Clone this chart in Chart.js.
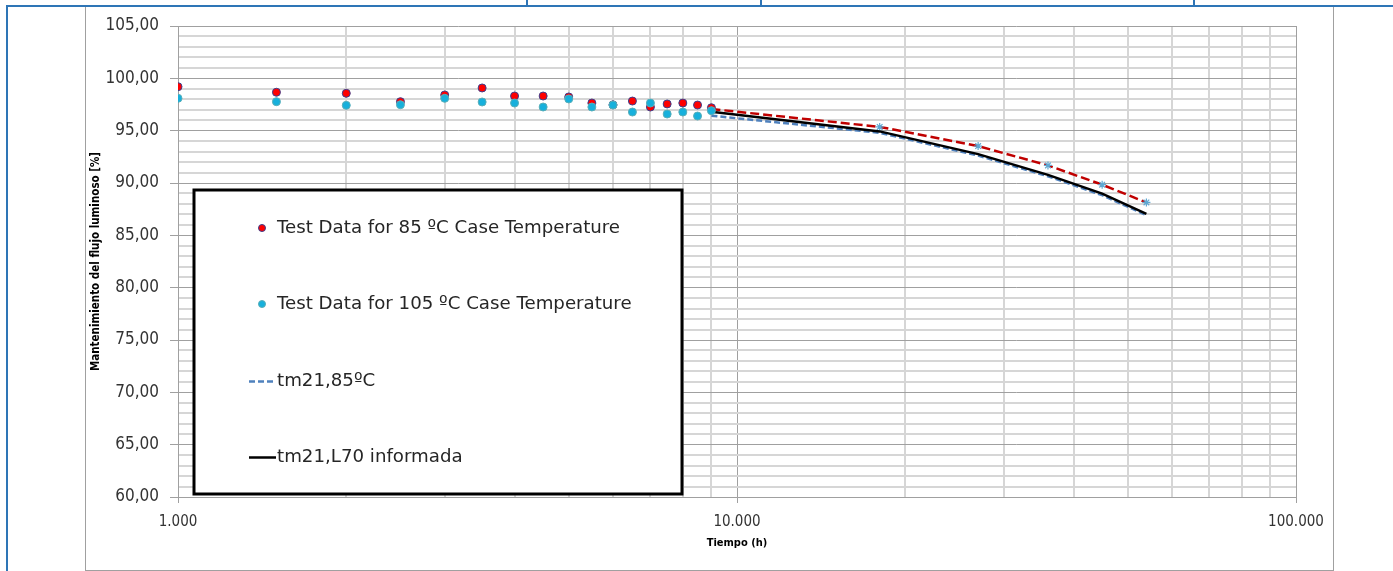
<!DOCTYPE html>
<html><head><meta charset="utf-8">
<script src="https://cdn.jsdelivr.net/npm/chart.js@4.4.1/dist/chart.umd.min.js"></script>
<style>
html,body{margin:0;padding:0;background:#fff;width:1393px;height:571px;overflow:hidden;}
.fr{position:absolute;}
#c{position:absolute;left:0;top:0;}
</style></head><body>
<div class="fr" style="left:6px;top:5px;width:1387px;height:2px;background:#2e75b6"></div>
<div class="fr" style="left:6px;top:5px;width:2px;height:566px;background:#2e75b6"></div>
<div class="fr" style="left:526px;top:0;width:2px;height:6px;background:#2e75b6"></div>
<div class="fr" style="left:760px;top:0;width:2px;height:6px;background:#2e75b6"></div>
<div class="fr" style="left:1193px;top:0;width:2px;height:6px;background:#2e75b6"></div>
<div class="fr" style="left:85px;top:7px;width:1247px;height:563px;border:1px solid #a0a0a0;border-top:none"></div>
<canvas id="c" width="1393" height="571"></canvas>
<script>
// ---- data ----
const testHours = [1000, 1500, 2000, 2500, 3000, 3500, 4000, 4500, 5000, 5500, 6000, 6500, 7000, 7500, 8000, 8500, 9000];
const test85 = [99.20, 98.67, 98.57, 97.77, 98.41, 99.08, 98.31, 98.31, 98.22, 97.64, 97.47, 97.83, 97.26, 97.55, 97.64, 97.45, 97.19];
const test105 = [98.09, 97.77, 97.42, 97.48, 98.09, 97.74, 97.64, 97.26, 98.03, 97.26, 97.45, 96.78, 97.64, 96.59, 96.78, 96.40, 96.91];
const tmHours = [9000, 18000, 27000, 36000, 45000, 54000];
const tmRed = [97.07, 95.36, 93.53, 91.68, 89.84, 88.14];
const tm85 = [96.43, 94.80, 92.62, 90.64, 88.84, 86.92];
const tmL70 = [96.81, 94.93, 92.76, 90.78, 88.98, 87.06];
const xGridValues = [1000, 2000, 3000, 4000, 5000, 6000, 7000, 8000, 9000, 10000, 20000, 30000, 40000, 50000, 60000, 70000, 80000, 90000, 100000];
const xLabelValues = [1000, 10000, 100000];
const xLabels = ['1.000', '10.000', '100.000'];
const yLabelValues = [60, 65, 70, 75, 80, 85, 90, 95, 100, 105];
const yLabels = ['60,00', '65,00', '70,00', '75,00', '80,00', '85,00', '90,00', '95,00', '100,00', '105,00'];

const F = "'DejaVu Sans Condensed', 'DejaVu Sans', sans-serif";
const FL = "'DejaVu Sans', Verdana, sans-serif";
const toXY = (xs, ys) => xs.map((x, i) => ({x: x, y: ys[i]}));

const boxLegend = {
  id: 'boxLegend',
  afterDraw(chart) {
    const ctx = chart.ctx, a = chart.chartArea;
    const L = a.left + 16, T = a.top + 164, R = a.left + 504, B = a.bottom - 3;
    ctx.save();
    ctx.fillStyle = '#fff';
    ctx.fillRect(L, T, R - L, B - T);
    ctx.lineWidth = 3; ctx.strokeStyle = '#000';
    ctx.strokeRect(L, T, R - L, B - T);
    ctx.font = '18.2px ' + FL;
    ctx.textBaseline = 'middle';
    ctx.textAlign = 'left';
    chart.data.datasets.filter(d => !d.hideInLegend).forEach((d, i) => {
      const y = Math.round(T + 38 + i * 76.3);
      if (d.showLine) {
        ctx.save();
        ctx.strokeStyle = d.borderColor; ctx.lineWidth = d.borderWidth;
        ctx.setLineDash(d.borderDash || []);
        ctx.beginPath(); ctx.moveTo(L + 55, y + 0.5); ctx.lineTo(L + 82, y + 0.5); ctx.stroke();
        ctx.restore();
      } else {
        ctx.beginPath(); ctx.arc(L + 68, y, 3.5, 0, Math.PI * 2);
        ctx.fillStyle = d.backgroundColor; ctx.fill();
        ctx.lineWidth = 1; ctx.strokeStyle = d.borderColor; ctx.stroke();
      }
      ctx.fillStyle = '#262626';
      ctx.fillText(d.label, L + 83, y);
    });
    ctx.restore();
  }
};

const majX = v => xLabelValues.includes(v);
const majY = v => yLabelValues.includes(v);

new Chart(document.getElementById('c'), {
  type: 'scatter',
  data: {
    datasets: [
      {label: 'Test Data for 85 ºC Case Temperature', data: toXY(testHours, test85), backgroundColor: '#ff0000', borderColor: '#3a3f8f', borderWidth: 1, pointRadius: 4, order: 1},
      {label: 'Test Data for 105 ºC Case Temperature', data: toXY(testHours, test105), backgroundColor: '#17b0dc', borderColor: '#58aeb8', borderWidth: 1, pointRadius: 4, order: 0},
      {label: 'tm21,85ºC', data: toXY(tmHours, tm85), showLine: true, borderColor: '#4f81bd', borderWidth: 2.5, borderDash: [6, 3], pointRadius: 0, order: 3},
      {label: 'tm21,L70 informada', data: toXY(tmHours, tmL70), showLine: true, borderColor: '#000', borderWidth: 2.5, pointRadius: 0, order: 2},
      {label: 'tm21,105ºC', hideInLegend: true, data: toXY(tmHours, tmRed), showLine: true, borderColor: '#c00000', borderWidth: 2.5, borderDash: [9, 4],
       pointStyle: 'star', pointRadius: 4, pointBorderColor: '#5fa8d3', pointBackgroundColor: '#5fa8d3', pointBorderWidth: 1.2, order: 4}
    ]
  },
  options: {
    responsive: false, animation: false, devicePixelRatio: 1, events: [],
    layout: {padding: {left: 86, right: 97, top: 26, bottom: 0}},
    plugins: {legend: {display: false}, tooltip: {enabled: false}},
    elements: {line: {tension: 0}},
    scales: {
      x: {
        type: 'logarithmic', min: 1000, max: 100000,
        afterBuildTicks: s => { s.ticks = xGridValues.map(v => ({value: v})); },
        afterFit: s => { s.height = 74; },
        ticks: {autoSkip: false, maxRotation: 0, minRotation: 0, padding: 10, color: '#333', font: {family: F, size: 15},
          callback: v => { const i = xLabelValues.indexOf(v); return i >= 0 ? xLabels[i] : ''; }},
        grid: {color: c => majX(c.tick.value) ? '#a0a0a0' : '#d6d6d6', lineWidth: c => majX(c.tick.value) ? 1 : 2,
          tickLength: 6, tickColor: c => majX(c.tick.value) ? '#a0a0a0' : 'rgba(0,0,0,0)'},
        border: {color: '#a0a0a0', width: 1},
        title: {display: true, text: 'Tiempo (h)', color: '#000', font: {family: F, size: 11, weight: 'bold'}, padding: {top: 0, bottom: 21}}
      },
      y: {
        min: 60, max: 105,
        afterFit: s => { s.width = 92; },
        ticks: {stepSize: 1, autoSkip: false, padding: 11, color: '#333', font: {family: F, size: 17},
          callback: v => { const i = yLabelValues.indexOf(v); return i >= 0 ? yLabels[i] : ''; }},
        grid: {color: c => majY(c.tick.value) ? '#a0a0a0' : '#d6d6d6', lineWidth: c => majY(c.tick.value) ? 1 : 2,
          tickLength: 8, tickColor: c => majY(c.tick.value) ? '#a0a0a0' : 'rgba(0,0,0,0)'},
        border: {color: '#a0a0a0', width: 1},
        title: {display: true, text: 'Mantenimiento del flujo luminoso [%]', color: '#000', font: {family: F, size: 11.5, weight: 'bold'}, padding: {top: 3, bottom: 0}}
      }
    }
  },
  plugins: [boxLegend]
});
</script>
</body></html>
